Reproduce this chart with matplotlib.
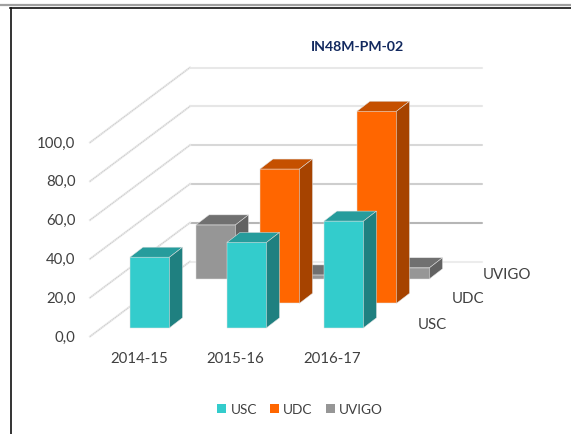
import numpy as np
import matplotlib
matplotlib.use("Agg")
import matplotlib.pyplot as plt
from matplotlib.patches import Polygon, Patch

plt.rcParams["font.family"] = ["Lato", "DejaVu Sans"]

years = ["2014-15", "2015-16", "2016-17"]
usc = [36.4, 44.0, 55.0]
udc = [np.nan, 69.2, 99.0]
uvigo = [27.8, 2.0, 5.7]
series_names = ["USC", "UDC", "UVIGO"]
ticks = [0, 20, 40, 60, 80, 100]
tick_labels = ["0,0", "20,0", "40,0", "60,0", "80,0", "100,0"]
title = "IN48M-PM-02"

front_cols = ["#33cccc", "#ff6600", "#969696"]
top_cols = ["#269c9c", "#c55000", "#707070"]
side_cols = ["#1f8080", "#a64300", "#626262"]
grid_cols = ["#ececec", "#b6b6b6", "#cecece", "#d8d8d8", "#e6e6e6", "#e8e8e8"]

# oblique projection, all in pixels of the 571x435 picture
px_unit = 1.94
bar_w = 39.5
dx, dy = 13, 10

def val_y(base, v):
    return base - v * px_unit

def bar(ax, i, s, v):
    x = 130 + 97 * i + 33 * s
    y0 = 328.8 - 24.5 * s
    y1 = val_y(y0, v)
    xr = x + bar_w
    edge = "#e2e2e2"
    ax.add_patch(Polygon([(x, y0), (xr, y0), (xr, y1), (x, y1)], fc=front_cols[s], ec=edge, lw=0.35, zorder=5 - s))
    ax.add_patch(Polygon([(x, y1), (xr, y1), (xr + dx, y1 - dy), (x + dx, y1 - dy)], fc=top_cols[s], ec=edge, lw=0.35, zorder=5 - s))
    ax.add_patch(Polygon([(xr, y0), (xr + dx, y0 - dy), (xr + dx, y1 - dy), (xr, y1)], fc=side_cols[s], ec=edge, lw=0.35, zorder=5 - s))

fig = plt.figure(figsize=(5.71, 4.35), dpi=100)
ax = fig.add_axes([0, 0, 1, 1])
ax.set_xlim(0, 571)
ax.set_ylim(435, 0)
ax.axis("off")

# page rules
ax.plot([0, 571], [6, 6], color="#a0a0a0", lw=1.6, zorder=1)
ax.plot([10, 571], [9, 9], color="#111111", lw=1.2, zorder=1)
ax.plot([11, 11], [9, 435], color="#111111", lw=1.2, zorder=1)

for t, lab, c in zip(ticks, tick_labels, grid_cols):
    yf = val_y(337.5, t)
    yb = val_y(262.5, t)
    ax.plot([190, 482], [yb, yb], color=c, lw=1.5, solid_capstyle="round", zorder=1)
    ax.plot([90, 190], [yf, yb], color="#eaeaea", lw=1.5, zorder=1)
    ax.plot([90, 190], [yf, yb], color="#c8c8c8", lw=0.7, ls=(0, (1, 1)), zorder=1)
    ax.text(75.5, yf, lab, ha="right", va="center", fontsize=10.8, color="#404040")

for s, vals in enumerate([usc, udc, uvigo]):
    for i, v in enumerate(vals):
        if not np.isnan(v):
            bar(ax, i, s, v)

for i, y in enumerate(years):
    ax.text(139 + 96.5 * i, 359, y, ha="center", va="center", fontsize=10.8, color="#404040")

ax.text(418, 325, series_names[0], ha="left", va="center", fontsize=10.8, color="#404040")
ax.text(452, 299.5, series_names[1], ha="left", va="center", fontsize=10.8, color="#404040")
ax.text(483, 275, series_names[2], ha="left", va="center", fontsize=10.8, color="#404040")

ax.text(358, 47, title, ha="center", va="center", fontsize=10.2, fontweight="bold", color="#12295f")

handles = [Patch(fc=c, ec="none") for c in front_cols]
ax.legend(handles, series_names, ncols=3, frameon=False, loc="center", bbox_to_anchor=(300, 410),
          bbox_transform=ax.transData, fontsize=9.8, labelcolor="#404040", handlelength=0.68, handleheight=0.68,
          handletextpad=0.3, columnspacing=0.95, borderpad=0)

fig.savefig("out.png", dpi=100)
